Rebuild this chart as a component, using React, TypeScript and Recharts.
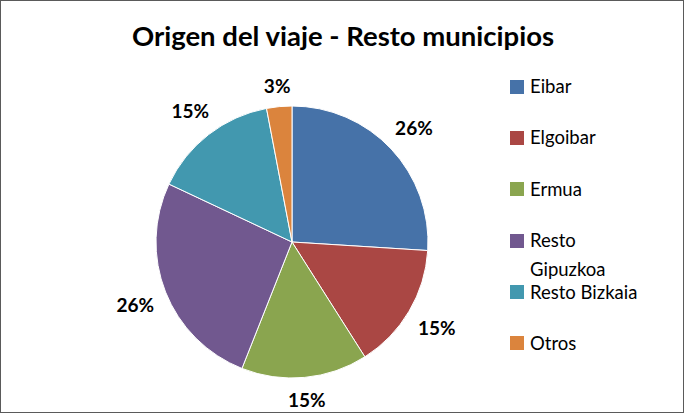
import React from 'react';
import { PieChart, Pie, Cell, Legend } from 'recharts';

const categories = ['Eibar', 'Elgoibar', 'Ermua', 'Resto Gipuzkoa', 'Resto Bizkaia', 'Otros'];
const shares = [26, 15, 15, 26, 15, 3];
const colors = ['#4672A8', '#AA4744', '#8AA54F', '#71588F', '#4298AF', '#DB843D'];

const data = categories.map((name, i) => ({ name, value: shares[i] }));

const RADIAN = Math.PI / 180;
const FONT = 'Lato, "Open Sans", sans-serif';

const renderLabel = (props: any) => {
  const { cx, cy, midAngle, outerRadius, value } = props;
  const text = `${value}%`;
  const w = text.length * 12;
  const h = 15;
  const sin = Math.sin(-midAngle * RADIAN);
  const cos = Math.cos(-midAngle * RADIAN);
  const dist = outerRadius + 13 + (w / 2) * Math.abs(cos) + (h / 2) * Math.abs(sin);
  const x = cx + dist * cos;
  const y = cy + dist * sin;
  return (
    <text
      x={x}
      y={y}
      textAnchor="middle"
      dominantBaseline="central"
      fill="#000"
      style={{ fontFamily: FONT, fontWeight: 700, fontSize: 19 }}
    >
      {text}
    </text>
  );
};

const renderLegend = () => (
  <div style={{ fontFamily: FONT, fontSize: 18.5, color: '#000' }}>
    {categories.map((name, i) => (
      <div key={name} style={{ height: 51.4, display: 'flex', alignItems: 'flex-start' }}>
        <div
          style={{
            width: 14,
            height: 14,
            marginTop: 7.5,
            marginRight: 6,
            background: colors[i],
            flexShrink: 0,
          }}
        />
        <div style={{ lineHeight: '29px', width: 120, whiteSpace: 'normal' }}>{name}</div>
      </div>
    ))}
  </div>
);

export default function App() {
  return (
    <div
      style={{
        position: 'absolute',
        left: 0,
        top: 0,
        width: 684,
        height: 413,
        background: '#fff',
        border: '1px solid #5a5a5a',
        boxSizing: 'border-box',
      }}
    >
      <div
        style={{
          position: 'absolute',
          left: 0,
          top: 18,
          width: 684,
          textAlign: 'center',
          fontFamily: FONT,
          fontWeight: 700,
          fontSize: 27.5,
          lineHeight: '34px',
          color: '#000',
        }}
      >
        Origen del viaje - Resto municipios
      </div>
      <div style={{ position: 'absolute', left: -1, top: -1 }}>
        <PieChart width={684} height={413} margin={{ top: 0, right: 0, bottom: 0, left: 0 }}>
          <Pie
            data={data}
            dataKey="value"
            nameKey="name"
            cx={292}
            cy={242}
            outerRadius={136}
            startAngle={90}
            endAngle={-270}
            stroke="#fff"
            strokeWidth={1}
            label={renderLabel}
            labelLine={false}
            isAnimationActive={false}
          >
            {data.map((d, i) => (
              <Cell key={d.name} fill={colors[i]} />
            ))}
          </Pie>
          <Legend
            layout="vertical"
            verticalAlign="top"
            align="right"
            content={renderLegend}
            wrapperStyle={{ left: 510, top: 72, width: 170 }}
          />
        </PieChart>
      </div>
    </div>
  );
}
